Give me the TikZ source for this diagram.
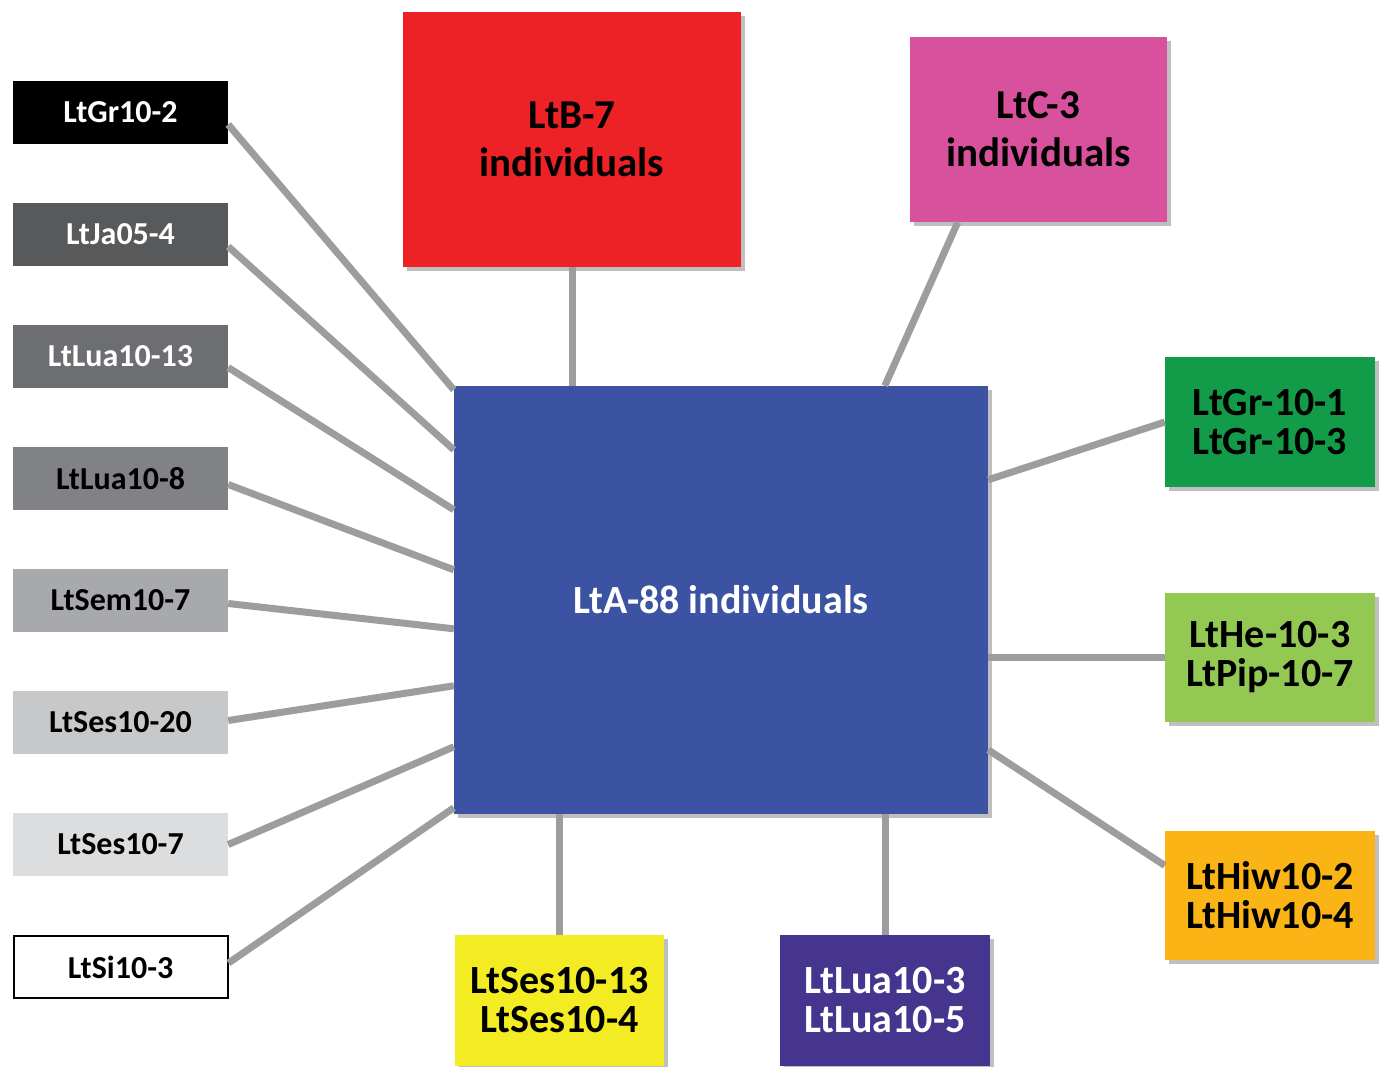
\documentclass[tikz,border=0pt]{standalone}
\usepackage{fontspec}
\setmainfont{Carlito}
\usepackage{xcolor}
\usetikzlibrary{shapes,shadows}
\definecolor{gA}{HTML}{000000}
\definecolor{gB}{HTML}{58595B}
\definecolor{gC}{HTML}{6D6E71}
\definecolor{gD}{HTML}{808285}
\definecolor{gE}{HTML}{A7A9AC}
\definecolor{gF}{HTML}{C7C8CA}
\definecolor{gG}{HTML}{DCDDDE}
\definecolor{hubblue}{HTML}{3C53A4}
\definecolor{ltred}{HTML}{EC2227}
\definecolor{ltpink}{HTML}{D8519D}
\definecolor{ltgreen}{HTML}{129B48}
\definecolor{ltlime}{HTML}{93C953}
\definecolor{ltorange}{HTML}{FBB416}
\definecolor{ltyellow}{HTML}{F3EC22}
\definecolor{ltpurple}{HTML}{46358F}
\definecolor{linkgray}{HTML}{9D9D9D}
\tikzset{leaf/.style={rectangle,minimum width=215pt,minimum height=63pt,inner sep=0pt,
    font=\fontsize{32}{34}\selectfont\bfseries},
  grp/.style={rectangle,inner sep=0pt,align=center,
    drop shadow={shadow xshift=4pt,shadow yshift=-4pt,opacity=0.5},
    font=\fontsize{40}{39}\selectfont\bfseries},
  link/.style={draw=linkgray,line width=7pt}}

\begin{document}
\begin{tikzpicture}[x=1pt,y=-1pt]
    \useasboundingbox (0,0) rectangle (1386,1066);
        % left column
        \node[leaf,fill=gA,text=white] (gr) at (120.5,112.5) {LtGr10-2};
        \node[leaf,fill=gB,text=white] (ja) at (120.5,234.5) {LtJa05-4};
        \node[leaf,fill=gC,text=white] (luaA) at (120.5,356.5) {LtLua10-13};
        \node[leaf,fill=gD] (luaB) at (120.5,478.5) {LtLua10-8};
        \node[leaf,fill=gE] (sem) at (120.5,600.5) {LtSem10-7};
        \node[leaf,fill=gF] (sesA) at (120.5,722.5) {LtSes10-20};
        \node[leaf,fill=gG] (sesB) at (120.5,844.5) {LtSes10-7};
        \node[leaf,draw=black,line width=2pt,fill=white,minimum width=214pt,minimum height=62pt] (si) at (120.5,967) {LtSi10-3};

        % groups
        \node[grp,fill=hubblue,text=white,minimum width=534pt,minimum height=428pt] (hub) at (721,600) {LtA-88 individuals};
        \node[grp,fill=ltred,minimum width=338pt,minimum height=255pt,font=\fontsize{41}{48}\selectfont\bfseries] (ltb) at (572,139.5) {LtB-7\\individuals};
        \node[grp,fill=ltpink,minimum width=257pt,minimum height=185pt,font=\fontsize{41}{48}\selectfont\bfseries] (ltc) at (1038.5,129.5) {LtC-3\\individuals};
        \node[grp,fill=ltgreen,minimum width=210pt,minimum height=130pt] (ltgr) at (1270,422) {LtGr-10-1\\LtGr-10-3};
        \node[grp,fill=ltlime,minimum width=210pt,minimum height=129pt] (lthe) at (1270,657.5) {LtHe-10-3\\LtPip-10-7};
        \node[grp,fill=ltorange,minimum width=210pt,minimum height=129pt] (lthiw) at (1270,895.5) {LtHiw10-2\\LtHiw10-4};
        \node[grp,fill=ltyellow,minimum width=209pt,minimum height=131pt] (ltses) at (559.5,1000.5) {LtSes10-13\\LtSes10-4};
        \node[grp,fill=ltpurple,text=white,minimum width=210pt,minimum height=131pt] (ltlua) at (885,1000.5) {LtLua10-3\\LtLua10-5};

        % connectors
        \draw[link] ([yshift=-12pt]gr.east) -- ([yshift=-4pt]hub.north west);
        \draw[link] ([yshift=-12pt]ja.east) -- ([yshift=-64pt]hub.north west);
        \draw[link] ([yshift=-11pt]luaA.east) -- ([yshift=-124pt]hub.north west);
        \draw[link] ([yshift=-6pt]luaB.east) -- ([yshift=-184pt]hub.north west);
        \draw[link] ([yshift=-3pt]sem.east) -- ([yshift=-243pt]hub.north west);
        \draw[link] ([yshift=2pt]sesA.east) -- ([yshift=-300pt]hub.north west);
        \draw[link] (sesB.east) -- ([yshift=-361pt]hub.north west);
        \draw[link] ([yshift=4pt]si.east) -- ([yshift=-422pt]hub.north west);
        \draw[link] (ltb.south) -- (ltb.south |- hub.north);
        \draw[link] ([xshift=48pt]ltc.south west) -- ([xshift=431pt]hub.north west);
        \draw[link] (ltgr.west) -- ([yshift=-94pt]hub.north east);
        \draw[link] (lthe.west) -- (lthe.west -| hub.east);
        \draw[link] ([yshift=30pt]lthiw.west) -- ([yshift=-364pt]hub.north east);
        \draw[link] (ltses.north) -- (ltses.north |- hub.south);
        \draw[link] (ltlua.north) -- (ltlua.north |- hub.south);
    \end{tikzpicture}
\end{document}
